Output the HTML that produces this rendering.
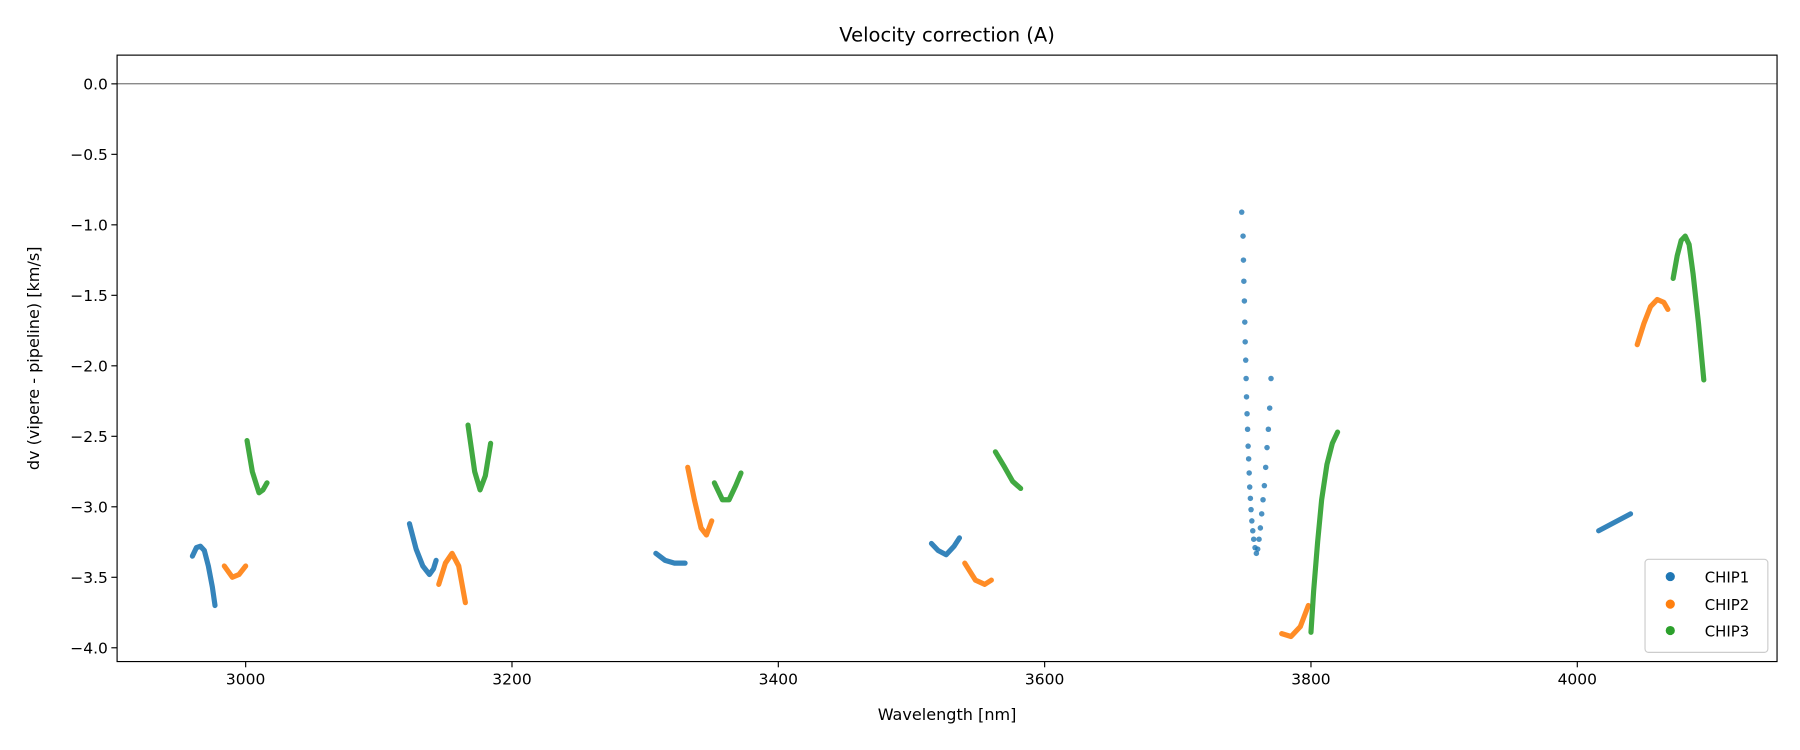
<!DOCTYPE html>
<html><head><meta charset="utf-8"><style>html,body{margin:0;padding:0;background:#fff}svg{display:block}text{font-family:"DejaVu Sans","Liberation Sans",sans-serif;fill:#000}</style></head>
<body>
<svg id="chart" width="1800" height="750" viewBox="0 0 1568 653" preserveAspectRatio="none" xmlns="http://www.w3.org/2000/svg">
<rect width="1568" height="653" fill="#fff"/>
<text x="825" y="36" font-size="17" text-anchor="middle">Velocity correction (A)</text>
<g id="marks"></g>
<g id="axes"></g>
<text x="825" y="627" font-size="14" text-anchor="middle">Wavelength [nm]</text>
<text transform="translate(34,312) rotate(-90)" font-size="14" text-anchor="middle">dv (vipere - pipeline) [km/s]</text>
<g>
<rect x="1433" y="487" width="107" height="81" rx="3" fill="#fff" stroke="#ccc"/>
<circle cx="1455" cy="502" r="4" fill="#1f77b4"/><text x="1485" y="507" font-size="13">CHIP1</text>
<circle cx="1455" cy="526" r="4" fill="#ff7f0e"/><text x="1485" y="531" font-size="13">CHIP2</text>
<circle cx="1455" cy="549" r="4" fill="#2ca02c"/><text x="1485" y="554" font-size="13">CHIP3</text>
</g>
</svg>
<script>
const xTicks=[3000,3200,3400,3600,3800,4000];
const yTicks=[0,-0.5,-1,-1.5,-2,-2.5,-3,-3.5,-4];
const yTickLabels=["0.0","−0.5","−1.0","−1.5","−2.0","−2.5","−3.0","−3.5","−4.0"];
const chip1Curves=[
 [[2960,-3.35],[2963,-3.29],[2966,-3.28],[2969,-3.31],[2972,-3.42],[2975,-3.57],[2977,-3.70]],
 [[3123,-3.12],[3128,-3.30],[3133,-3.42],[3138,-3.48],[3141,-3.44],[3143,-3.38]],
 [[3308,-3.33],[3315,-3.38],[3322,-3.40],[3330,-3.40]],
 [[3515,-3.26],[3520,-3.31],[3526,-3.34],[3532,-3.28],[3536,-3.22]],
 [[4016,-3.17],[4040,-3.05]]];
const chip1SparseX=[3748,3749,3749.3,3749.6,3750,3750.3,3750.6,3751,3751.3,3751.6,3752,3752.4,3752.8,3753.2,3753.6,3754,3754.5,3755,3755.6,3756.3,3757,3758,3759,3760,3761,3762,3763,3764,3765,3766,3767,3768,3769,3770];
const chip1SparseY=[-0.91,-1.08,-1.25,-1.40,-1.54,-1.69,-1.83,-1.96,-2.09,-2.22,-2.34,-2.45,-2.57,-2.66,-2.76,-2.86,-2.94,-3.02,-3.10,-3.17,-3.23,-3.29,-3.33,-3.30,-3.23,-3.15,-3.05,-2.95,-2.85,-2.72,-2.58,-2.45,-2.30,-2.09];
const chip2Curves=[
 [[2984,-3.42],[2990,-3.50],[2995,-3.48],[3000,-3.42]],
 [[3145,-3.55],[3150,-3.40],[3155,-3.33],[3160,-3.42],[3165,-3.68]],
 [[3332,-2.72],[3337,-2.95],[3342,-3.15],[3346,-3.20],[3350,-3.10]],
 [[3540,-3.40],[3548,-3.52],[3555,-3.55],[3560,-3.52]],
 [[3778,-3.90],[3785,-3.92],[3792,-3.85],[3798,-3.70]],
 [[4045,-1.85],[4050,-1.70],[4055,-1.58],[4060,-1.53],[4065,-1.55],[4068,-1.60]]];
const chip3Curves=[
 [[3001,-2.53],[3005,-2.75],[3010,-2.90],[3013,-2.88],[3016,-2.83]],
 [[3167,-2.42],[3172,-2.75],[3176,-2.88],[3180,-2.78],[3184,-2.55]],
 [[3352,-2.83],[3358,-2.95],[3363,-2.95],[3368,-2.85],[3372,-2.76]],
 [[3563,-2.61],[3570,-2.72],[3576,-2.82],[3582,-2.87]],
 [[3800,-3.89],[3802,-3.60],[3805,-3.25],[3808,-2.95],[3812,-2.70],[3816,-2.55],[3820,-2.47]],
 [[4072,-1.38],[4075,-1.22],[4078,-1.11],[4081,-1.08],[4084,-1.14],[4087,-1.35],[4091,-1.70],[4095,-2.10]]];
const NS="http://www.w3.org/2000/svg";
const L=102,R=1548,T=48,B=576;
function xs(v){return 214+(v-3000)*1.16;}
function ys(v){return 73-v*122.75;}
const marks=document.getElementById('marks'),axes=document.getElementById('axes');
function mk(tag,attrs,parent){const e=document.createElementNS(NS,tag);for(const k in attrs)e.setAttribute(k,attrs[k]);parent.appendChild(e);return e;}
const zl=mk('line',{x1:L,x2:R,y1:ys(0),y2:ys(0),stroke:'#444','stroke-width':0.8},marks);


function drawCurves(curves,color,name){
 curves.forEach((c,i)=>{
  const d=c.map((p,j)=>(j?'L':'M')+xs(p[0]).toFixed(1)+','+ys(p[1]).toFixed(1)).join('');
  const p=mk('path',{d:d,fill:'none',stroke:color,'stroke-width':4.5,'stroke-linecap':'round','stroke-linejoin':'round','stroke-opacity':0.9},marks);
  
  
 });
}
drawCurves(chip1Curves,'#1f77b4','chip1');
drawCurves(chip2Curves,'#ff7f0e','chip2');
drawCurves(chip3Curves,'#2ca02c','chip3');
chip1SparseX.forEach((x,i)=>{
 const c=mk('circle',{cx:xs(x),cy:ys(chip1SparseY[i]),r:2.4,fill:'#1f77b4','fill-opacity':0.8},marks);
 
 
});
const fr=mk('rect',{x:L,y:T,width:R-L,height:B-T,fill:'none',stroke:'#000','stroke-width':1},axes);


xTicks.forEach(v=>{
 mk('line',{x1:xs(v),x2:xs(v),y1:B,y2:B+5,stroke:'#000'},axes);
 const t=mk('text',{x:xs(v),y:B+20,'font-size':13.5,'text-anchor':'middle'},axes);
 t.textContent=v;
 
 
});
yTicks.forEach((v,i)=>{
 mk('line',{x1:L-5,x2:L,y1:ys(v),y2:ys(v),stroke:'#000'},axes);
 const t=mk('text',{x:L-8,y:ys(v)+5,'font-size':13.5,'text-anchor':'end'},axes);
 t.textContent=yTickLabels[i];
 
 
});
</script>
</body></html>
